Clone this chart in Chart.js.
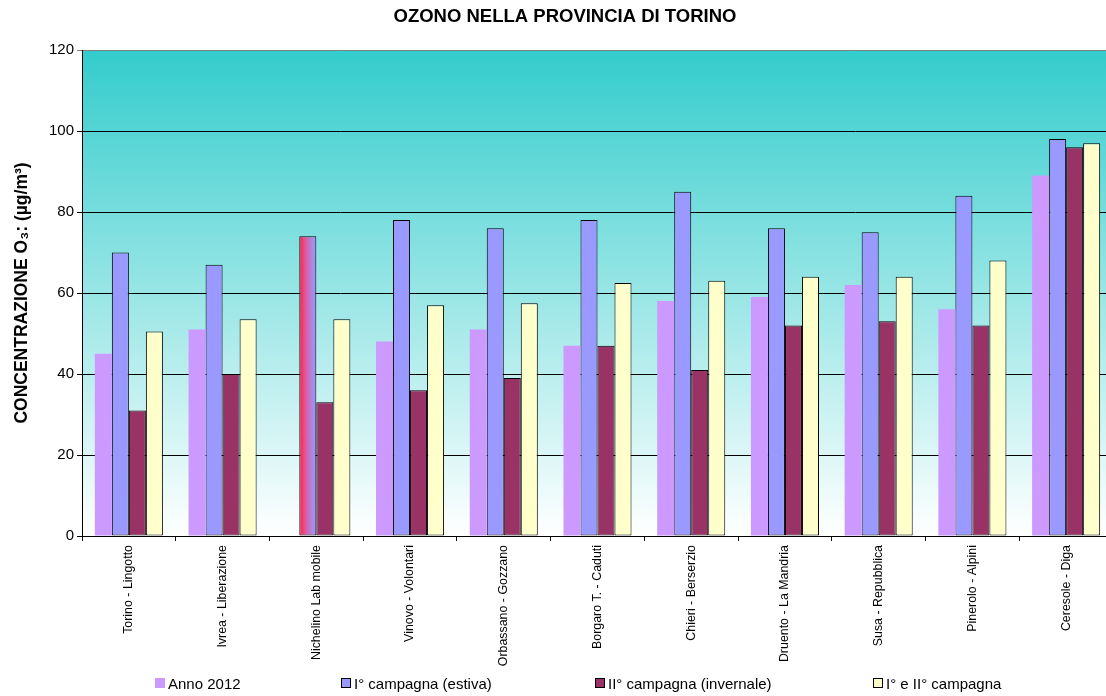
<!DOCTYPE html>
<html>
<head>
<meta charset="utf-8">
<script src="https://cdn.jsdelivr.net/npm/chart.js@4.4.1/dist/chart.umd.min.js"></script>
<style>
  html, body { margin: 0; padding: 0; background: #ffffff; }
  #wrap { position: relative; width: 1106px; height: 696px; overflow: hidden; }
  #c { position: absolute; left: 0; top: 0; }
  .legend-item { position: absolute; top: 674px; height: 18px; display: flex; align-items: center;
    font: 15px "Liberation Sans", Arial, sans-serif; color: #000; white-space: nowrap; }
  .legend-box { width: 10px; height: 10px; box-sizing: border-box; margin-right: 3px; }
</style>
</head>
<body>
<div id="wrap">
  <canvas id="c" width="1130" height="696"></canvas>
</div>
<script>
// Monitoring stations
const stations = [
  'Torino - Lingotto', 'Ivrea - Liberazione', 'Nichelino Lab mobile', 'Vinovo - Volontari',
  'Orbassano - Gozzano', 'Borgaro T. - Caduti', 'Chieri - Berserzio', 'Druento - La Mandria',
  'Susa - Repubblica', 'Pinerolo - Alpini', 'Ceresole - Diga'
];
// Ozone concentration, µg/m³
const anno2012   = [45, 51, null, 48, 51, 47, 58, 59, 62, 56, 89];
const campagna1  = [70, 67, 74, 78, 76, 78, 85, 76, 75, 84, 98];
const campagna2  = [31, 40, 33, 36, 39, 47, 41, 52, 53, 52, 96];
const campagna12 = [50.5, 53.5, 53.5, 57, 57.5, 62.5, 63, 64, 64, 68, 97];
// Value axis ticks
const yTicks = [0, 20, 40, 60, 80, 100, 120];

const FONT = '"Liberation Sans", Arial, sans-serif';
const CAT_PCT = 0.726;
const MOBILE_STATION = 2; // mobile lab bar is drawn with a red-to-violet fill

// Per-bar fill (scriptable so every bar keeps its own options object)
const fillCampagna1 = ctx => '#9999FF';

// Gives the mobile lab bar a horizontal red-to-violet gradient, using the bar's own geometry
const mobileGradient = {
  id: 'mobileGradient',
  beforeDatasetsDraw(chart) {
    const el = chart.getDatasetMeta(1).data[MOBILE_STATION];
    if (!el) return;
    const { x, width } = el.getProps(['x', 'width'], true);
    const left = x - width / 2;
    const g = chart.ctx.createLinearGradient(left, 0, left + width, 0);
    g.addColorStop(0, '#FF1F3F');
    g.addColorStop(0.35, '#E3559A');
    g.addColorStop(0.7, '#B083DC');
    g.addColorStop(1, '#9999FF');
    el.options = Object.assign({}, el.options, { backgroundColor: g });
  }
};

// Plot area background: teal at the top fading to white
const plotBackground = {
  id: 'plotBackground',
  beforeDraw(chart) {
    const { ctx, chartArea } = chart;
    if (!chartArea) return;
    const { left, top, right, bottom } = chartArea;
    const g = ctx.createLinearGradient(0, top, 0, bottom);
    g.addColorStop(0, '#33CCCC');
    g.addColorStop(1, '#FFFFFF');
    ctx.save();
    ctx.fillStyle = g;
    ctx.fillRect(left, top, right - left, bottom - top);
    ctx.restore();
  }
};

const chart = new Chart(document.getElementById('c'), {
  type: 'bar',
  data: {
    labels: stations,
    datasets: [
      { label: 'Anno 2012', data: anno2012, backgroundColor: '#CC99FF', borderWidth: 0 },
      { label: 'I° campagna (estiva)', data: campagna1, backgroundColor: fillCampagna1,
        borderColor: '#000000', borderWidth: 1, borderSkipped: false },
      { label: 'II° campagna (invernale)', data: campagna2, backgroundColor: '#993366',
        borderColor: '#000000', borderWidth: 1, borderSkipped: false },
      { label: 'I° e II° campagna', data: campagna12, backgroundColor: '#FFFFCC',
        borderColor: '#000000', borderWidth: 1, borderSkipped: false }
    ]
  },
  options: {
    responsive: false,
    animation: false,
    devicePixelRatio: 1,
    layout: { padding: { left: 17, right: 17, top: 0, bottom: 0 } },
    datasets: { bar: { categoryPercentage: CAT_PCT, barPercentage: 1 } },
    plugins: {
      legend: { display: false },
      tooltip: { enabled: false },
      title: {
        display: true,
        text: 'OZONO NELLA PROVINCIA DI TORINO',
        color: '#000000',
        font: { family: FONT, size: 18.5, weight: 'bold', lineHeight: 1.2 },
        padding: { top: 6, bottom: 21.8 }
      }
    },
    scales: {
      x: {
        offset: true,
        afterFit: s => { s.height = 160; },
        grid: { drawOnChartArea: false, drawTicks: true, tickLength: 5, color: '#000000', offset: true },
        border: { display: true, color: '#000000', width: 1 },
        ticks: {
          autoSkip: false, minRotation: 90, maxRotation: 90, padding: 4,
          color: '#000000', font: { family: FONT, size: 12.4 }
        }
      },
      y: {
        min: 0, max: 120,
        afterFit: s => { s.width = 65; },
        afterBuildTicks: s => { s.ticks = yTicks.map(v => ({ value: v })); },
        grid: {
          color: c => (c.tick && c.tick.value === 120) ? '#808080' : '#000000',
          lineWidth: 1, tickLength: 5, drawTicks: true
        },
        border: { display: true, color: '#000000', width: 1 },
        ticks: { padding: 3, color: '#000000', font: { family: FONT, size: 15 } },
        title: {
          display: true,
          text: 'CONCENTRAZIONE O₃: (µg/m³)',
          color: '#000000',
          font: { family: FONT, size: 17.5, weight: 'bold', lineHeight: 1.2 },
          padding: { top: -5, bottom: 0 }
        }
      }
    }
  },
  plugins: [plotBackground, mobileGradient]
});

// Legend row built from the datasets
const legendLeft = [155, 341, 595, 873];
const wrap = document.getElementById('wrap');
chart.data.datasets.forEach((ds, i) => {
  const item = document.createElement('div');
  item.className = 'legend-item';
  item.style.left = legendLeft[i] + 'px';
  const box = document.createElement('span');
  box.className = 'legend-box';
  box.style.background = i === 1 ? '#9999FF' : ds.backgroundColor;
  if (ds.borderWidth) box.style.border = ds.borderWidth + 'px solid ' + ds.borderColor;
  const txt = document.createElement('span');
  txt.textContent = ds.label;
  item.appendChild(box);
  item.appendChild(txt);
  wrap.appendChild(item);
});
</script>
</body>
</html>
